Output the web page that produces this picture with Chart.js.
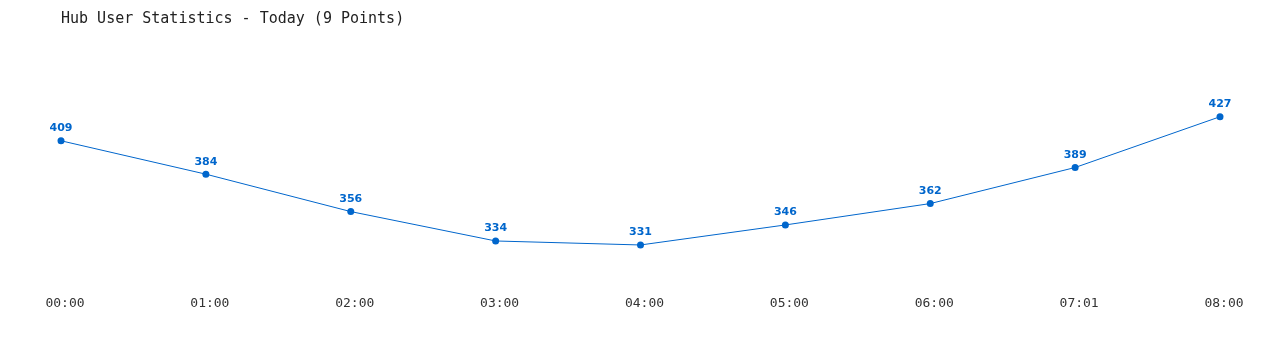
<!DOCTYPE html>
<html>
<head>
<meta charset="utf-8">
<script src="https://cdn.jsdelivr.net/npm/chart.js@4/dist/chart.umd.min.js"></script>
<style>
  body { margin: 0; background: #fff; }
  canvas { display: block; }
</style>
</head>
<body>
<canvas id="hubChart" width="1280" height="350"></canvas>
<script>
const hours = ['00:00', '01:00', '02:00', '03:00', '04:00', '05:00', '06:00', '07:01', '08:00'];
const users = [409, 384, 356, 334, 331, 346, 362, 389, 427];

const blue = '#0066cc';

// draws the value above every point
const valueLabels = {
    id: 'valueLabels',
    afterDatasetsDraw(chart) {
        const ctx = chart.ctx;
        const meta = chart.getDatasetMeta(0);
        ctx.save();
        ctx.font = 'bold 11px "DejaVu Sans", sans-serif';
        ctx.fillStyle = blue;
        ctx.textAlign = 'center';
        ctx.textBaseline = 'middle';
        meta.data.forEach((pt, i) => {
            ctx.fillText(String(chart.data.datasets[0].data[i]), pt.x, pt.y - 12.5);
        });
        ctx.restore();
    }
};

new Chart(document.getElementById('hubChart').getContext('2d'), {
    type: 'line',
    data: {
        labels: hours,
        datasets: [{
            label: 'Users',
            data: users,
            borderColor: blue,
            backgroundColor: blue,
            borderWidth: 1,
            pointRadius: 3.5,
            pointBorderWidth: 0,
            pointBackgroundColor: blue,
            tension: 0,
            fill: false
        }]
    },
    options: {
        responsive: false,
        animation: false,
        devicePixelRatio: 1,
        layout: {
            padding: { left: 61, right: 60, top: 0, bottom: 30 }
        },
        plugins: {
            legend: { display: false },
            tooltip: { enabled: false },
            title: {
                display: true,
                text: 'Hub User Statistics - Today (9 Points)',
                align: 'start',
                color: '#222',
                font: { family: '"DejaVu Sans Mono", monospace', size: 15, weight: 'normal' },
                padding: { top: 10, bottom: 58 }
            }
        },
        scales: {
            x: {
                offset: false,
                grid: { display: false, drawTicks: false },
                border: { display: false },
                ticks: {
                    color: '#333',
                    padding: 9,
                    labelOffset: 4,
                    maxRotation: 0,
                    autoSkip: false,
                    font: { family: '"DejaVu Sans Mono", monospace', size: 13 }
                }
            },
            y: {
                display: false,
                min: 300,
                max: 450
            }
        }
    },
    plugins: [valueLabels]
});
</script>
</body>
</html>
